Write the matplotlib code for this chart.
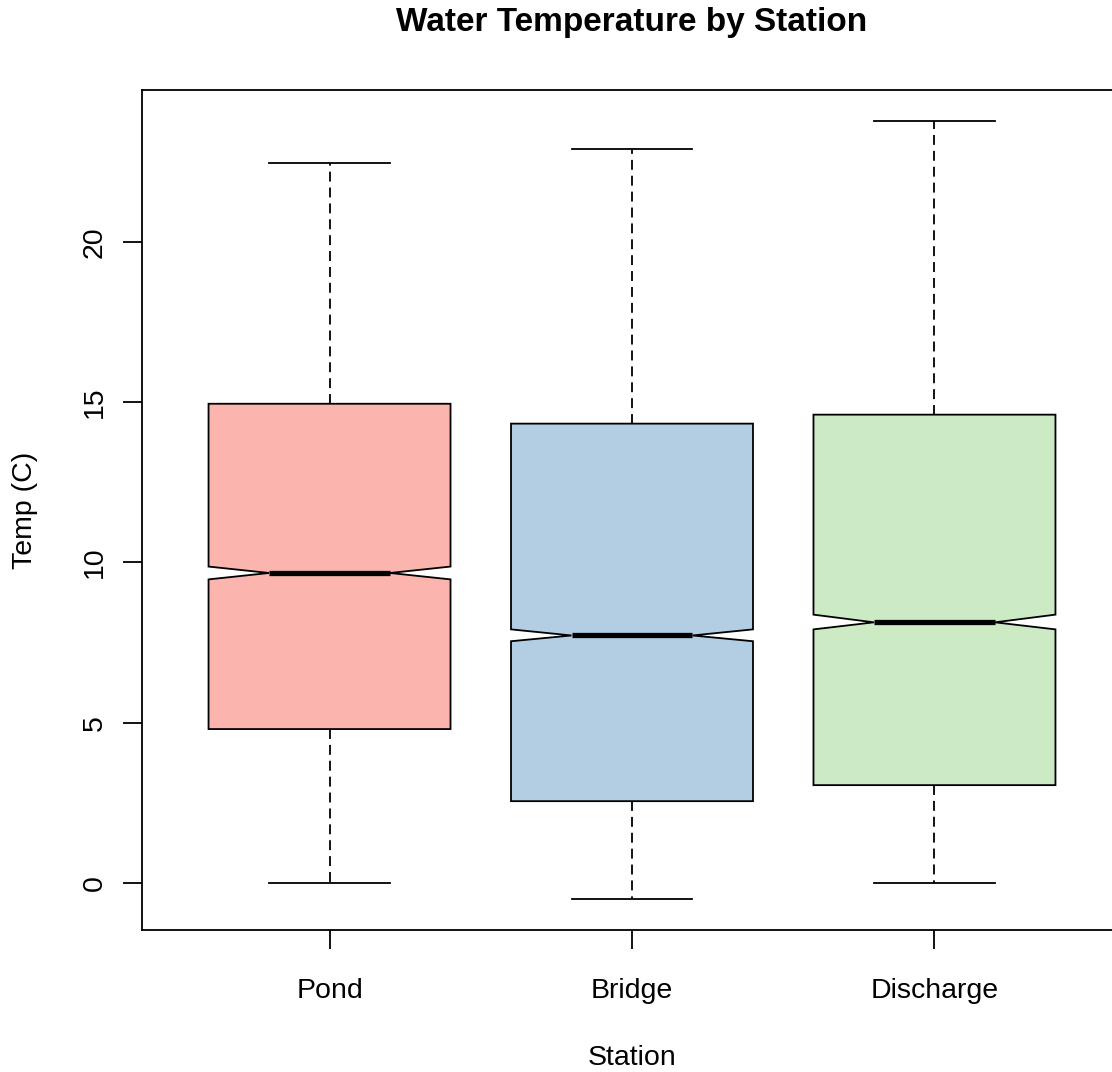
import matplotlib
matplotlib.use("Agg")
import matplotlib.pyplot as plt

plt.rcParams['font.family'] = ['Liberation Sans', 'DejaVu Sans']

# Summary statistics per station (temperature in degrees C)
stations = ["Pond", "Bridge", "Discharge"]
whisker_low = [0.0, -0.5, 0.0]
quartile_1 = [4.80, 2.55, 3.05]
medians = [9.67, 7.72, 8.13]
quartile_3 = [14.95, 14.33, 14.61]
whisker_high = [22.46, 22.90, 23.77]
notch_low = [9.47, 7.54, 7.91]
notch_high = [9.87, 7.91, 8.37]
fill_colors = ["#FBB4AE", "#B3CDE3", "#CCEBC5"]

stats = []
for i, name in enumerate(stations):
    stats.append(dict(label=name, whislo=whisker_low[i], q1=quartile_1[i],
                      med=medians[i], q3=quartile_3[i], whishi=whisker_high[i],
                      cilo=notch_low[i], cihi=notch_high[i], fliers=[]))

W, H = 1112, 1072
fig = plt.figure(figsize=(W / 100, H / 100), dpi=100)
left, right, top, bottom = 142, 1122, 90, 930
ax = fig.add_axes([left / W, 1 - bottom / H, (right - left) / W, (bottom - top) / H])

lw = 1.3
bp = ax.bxp(stats, positions=[1, 2, 3], widths=0.8, capwidths=0.4,
            shownotches=True, patch_artist=True, showfliers=False,
            boxprops=dict(linewidth=lw, edgecolor="black"),
            whiskerprops=dict(linewidth=lw, linestyle=(0, (5.5, 3.3)), color="black"),
            capprops=dict(linewidth=lw, color="black"),
            medianprops=dict(linewidth=3.8, color="black", solid_capstyle="butt"))
for patch, c in zip(bp["boxes"], fill_colors):
    patch.set_facecolor(c)

ax.set_xlim(0.38, 3.62)
ax.set_ylim(-1.47, 24.74)
ax.set_xticks([1, 2, 3])
ax.set_xticklabels(stations)
ax.set_yticks([0, 5, 10, 15, 20])
for lab in ax.get_yticklabels():
    lab.set_rotation(90)
    lab.set_va("center")

ax.tick_params(axis="both", length=13.5, width=lw, labelsize=20.5, color="black")
ax.tick_params(axis="x", pad=21)
ax.tick_params(axis="y", pad=11)
for s in ax.spines.values():
    s.set_linewidth(lw)

fig.text(632 / W, 1 - 23 / H, "Water Temperature by Station", ha="center", va="center",
         fontsize=24, fontweight="bold")
fig.text(632 / W, 1 - 1058 / H, "Station", ha="center", va="center", fontsize=20.5)
fig.text(25 / W, 1 - 510 / H, "Temp (C)", ha="center", va="center", fontsize=20.5,
         rotation=90)

fig.savefig("out.png", dpi=100)
